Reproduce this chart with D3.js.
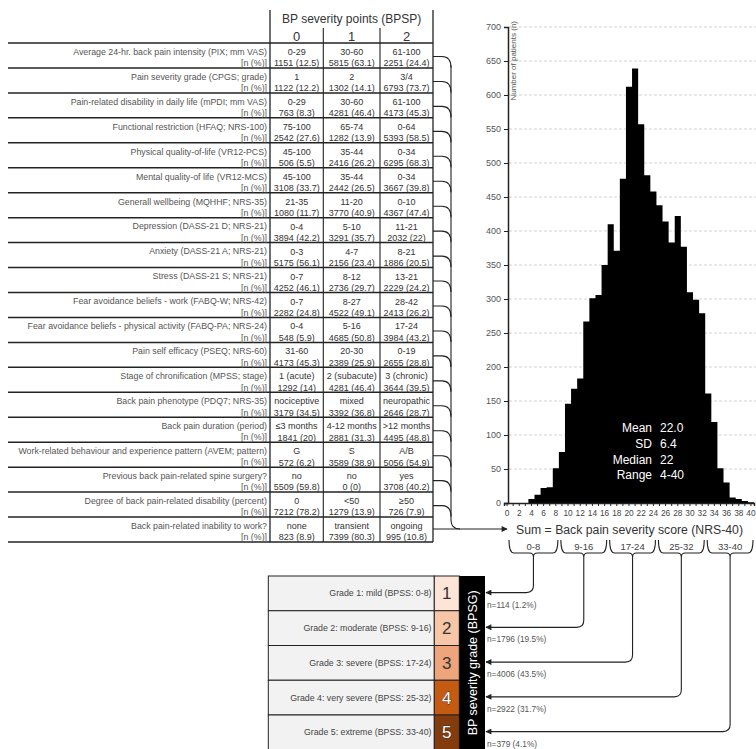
<!DOCTYPE html>
<html>
<head>
<meta charset="utf-8">
<script src="https://cdn.jsdelivr.net/npm/d3@7"></script>
<style>
  body { margin: 0; background: #fff; }
  svg { display: block; font-family: "Liberation Sans", Arial, sans-serif; }
</style>
</head>
<body>
<svg id="chart" width="756" height="749"></svg>
<script>
// ---- Items contributing back pain severity points ----
const measures = [
  "Average 24-hr. back pain intensity (PIX; mm VAS)",
  "Pain severity grade (CPGS; grade)",
  "Pain-related disability in daily life (mPDI; mm VAS)",
  "Functional restriction (HFAQ; NRS-100)",
  "Physical quality-of-life (VR12-PCS)",
  "Mental quality-of life (VR12-MCS)",
  "Generall wellbeing (MQHHF; NRS-35)",
  "Depression (DASS-21 D; NRS-21)",
  "Anxiety (DASS-21 A; NRS-21)",
  "Stress (DASS-21 S; NRS-21)",
  "Fear avoidance beliefs - work (FABQ-W; NRS-42)",
  "Fear avoidance beliefs - physical activity (FABQ-PA; NRS-24)",
  "Pain self efficacy (PSEQ; NRS-60)",
  "Stage of chronification (MPSS; stage)",
  "Back pain phenotype (PDQ7; NRS-35)",
  "Back pain duration (period)",
  "Work-related behaviour and experience pattern (AVEM; pattern)",
  "Previous back pain-related spine surgery?",
  "Degree of back pain-related disability (percent)",
  "Back pain-related inability to work?"
];
const points = ["0", "1", "2"];
const cutoffs = [
  ["0-29", "30-60", "61-100"],
  ["1", "2", "3/4"],
  ["0-29", "30-60", "61-100"],
  ["75-100", "65-74", "0-64"],
  ["45-100", "35-44", "0-34"],
  ["45-100", "35-44", "0-34"],
  ["21-35", "11-20", "0-10"],
  ["0-4", "5-10", "11-21"],
  ["0-3", "4-7", "8-21"],
  ["0-7", "8-12", "13-21"],
  ["0-7", "8-27", "28-42"],
  ["0-4", "5-16", "17-24"],
  ["31-60", "20-30", "0-19"],
  ["1 (acute)", "2 (subacute)", "3 (chronic)"],
  ["nociceptive", "mixed", "neuropathic"],
  ["\u22643 months", "4-12 months", ">12 months"],
  ["G", "S", "A/B"],
  ["no", "no", "yes"],
  ["0", "<50", "\u226550"],
  ["none", "transient", "ongoing"]
];
const countN = [
  [1151, 5815, 2251], [1122, 1302, 6793], [763, 4281, 4173], [2542, 1282, 5393],
  [506, 2416, 6295], [3108, 2442, 3667], [1080, 3770, 4367], [3894, 3291, 2032],
  [5175, 2156, 1886], [4252, 2736, 2229], [2282, 4522, 2413], [548, 4685, 3984],
  [4173, 2389, 2655], [1292, 4281, 3644], [3179, 3392, 2646], [1841, 2881, 4495],
  [572, 3589, 5056], [5509, 0, 3708], [7212, 1279, 726], [823, 7399, 995]
];
const countPct = [
  [12.5, 63.1, 24.4], [12.2, 14.1, 73.7], [8.3, 46.4, 45.3], [27.6, 13.9, 58.5],
  [5.5, 26.2, 68.3], [33.7, 26.5, 39.8], [11.7, 40.9, 47.4], [42.2, 35.7, 22],
  [56.1, 23.4, 20.5], [46.1, 29.7, 24.2], [24.8, 49.1, 26.2], [5.9, 50.8, 43.2],
  [45.3, 25.9, 28.8], [14, 46.4, 39.5], [34.5, 36.8, 28.7], [20, 31.3, 48.8],
  [6.2, 38.9, 54.9], [59.8, 0, 40.2], [78.2, 13.9, 7.9], [8.9, 80.3, 10.8]
];

// ---- Distribution of the summed score ----
const scores = [0,1,2,3,4,5,6,7,8,9,10,11,12,13,14,15,16,17,18,19,20,
                21,22,23,24,25,26,27,28,29,30,31,32,33,34,35,36,37,38,39,40];
const patients = [0,0,0,0,6,12,22,23,51,75,146,168,183,267,301,306,350,410,371,477,612,
                  639,557,482,458,438,414,383,422,377,310,299,279,161,119,51,30,8,6,3,1];
const yTicks = [0,50,100,150,200,250,300,350,400,450,500,550,600,650,700];
const xTickLabels = [0,2,4,6,8,10,12,14,16,18,20,22,24,26,28,30,32,34,36,38,40];
const statNames = ["Mean", "SD", "Median", "Range"];
const statValues = ["22.0", "6.4", "22", "4-40"];

// ---- Severity grades ----
const gradeNames = [
  "Grade 1: mild (BPSS: 0-8)",
  "Grade 2: moderate (BPSS: 9-16)",
  "Grade 3: severe (BPSS: 17-24)",
  "Grade 4: very severe (BPSS: 25-32)",
  "Grade 5: extreme (BPSS: 33-40)"
];
const gradeLo = [0, 9, 17, 25, 33];
const gradeHi = [8, 16, 24, 32, 40];
const gradeN = [114, 1796, 4006, 2922, 379];
const gradePct = [1.2, 19.5, 43.5, 31.7, 4.1];

const svg = d3.select("#chart");
const ink = "#222";

svg.append("defs").append("marker")
  .attr("id", "arrow").attr("viewBox", "0 0 10 10")
  .attr("refX", 9).attr("refY", 5)
  .attr("markerWidth", 7).attr("markerHeight", 6)
  .attr("markerUnits", "userSpaceOnUse")
  .attr("orient", "auto")
  .append("path").attr("d", "M0,0 L10,5 L0,10 Z").attr("fill", ink);

// ================= Table =================
const tbl = svg.append("g");
const tableTop = 43, rowH = 24.95, tableLeft = 8;
const colEdges = [270, 323.3, 380, 433];
const colMid = i => (colEdges[i] + colEdges[i + 1]) / 2;
const rowTop = i => tableTop + i * rowH;
const tableBottom = rowTop(measures.length);

tbl.append("text").attr("x", colMid(1)).attr("y", 23)
  .attr("text-anchor", "middle").attr("font-size", 12).attr("fill", "#333")
  .text("BP severity points (BPSP)");
points.forEach((p, i) => {
  tbl.append("text").attr("x", colMid(i)).attr("y", 40.5)
    .attr("text-anchor", "middle").attr("font-size", 13).attr("fill", "#333").text(p);
});

// grid lines of the table
[colEdges[0], colEdges[3]].forEach(x => tbl.append("line")
  .attr("x1", x).attr("x2", x).attr("y1", 10).attr("y2", tableBottom)
  .attr("stroke", ink).attr("stroke-width", 1.3));
[colEdges[1], colEdges[2]].forEach(x => tbl.append("line")
  .attr("x1", x).attr("x2", x).attr("y1", 28).attr("y2", tableBottom)
  .attr("stroke", ink).attr("stroke-width", 1.1));
d3.range(measures.length + 1).forEach(i => tbl.append("line")
  .attr("x1", tableLeft).attr("x2", colEdges[3]).attr("y1", rowTop(i)).attr("y2", rowTop(i))
  .attr("stroke", ink).attr("stroke-width", 1.5));

measures.forEach((m, i) => {
  const t = rowTop(i);
  tbl.append("text").attr("x", 267).attr("y", t + 11.8)
    .attr("text-anchor", "end").attr("font-size", 8.8).attr("fill", "#555").text(m);
  tbl.append("text").attr("x", 267).attr("y", t + 23.2)
    .attr("text-anchor", "end").attr("font-size", 8.8).attr("fill", "#555").text("[n (%)]");
  cutoffs[i].forEach((c, j) => {
    tbl.append("text").attr("x", colMid(j)).attr("y", t + 12)
      .attr("text-anchor", "middle").attr("font-size", 9).attr("fill", "#333").text(c);
    tbl.append("text").attr("x", colMid(j)).attr("y", t + 23.3)
      .attr("text-anchor", "middle").attr("font-size", 9).attr("fill", "#333")
      .text(`${countN[i][j]} (${countPct[i][j]})`);
  });
});

// ================= Histogram =================
const x = d3.scaleBand().domain(scores).range([504, 754]).padding(0);
const y = d3.scaleLinear().domain([0, 700]).range([503, 27]);
const bw = x.bandwidth();
const hist = svg.append("g");

hist.selectAll("line.grid").data(yTicks.filter(v => v > 0)).join("line")
  .attr("class", "grid")
  .attr("x1", 509).attr("x2", 756).attr("y1", d => y(d)).attr("y2", d => y(d))
  .attr("stroke", "#c8c8c8").attr("stroke-width", 0.8).attr("stroke-dasharray", "3,2");

// contiguous bars drawn as one stepped outline so adjacent bins don't show seams
const steps = scores.flatMap((s, i) => [[x(s), patients[i]], [x(s) + bw, patients[i]]]);
hist.append("path")
  .datum(steps)
  .attr("fill", "#000")
  .attr("d", d3.area().x(d => d[0]).y0(y(0)).y1(d => y(d[1])));

const yAxis = hist.append("g").attr("transform", "translate(508,0)")
  .call(d3.axisLeft(y).tickValues(yTicks).tickSize(4).tickPadding(3));
yAxis.select(".domain").attr("stroke", ink).attr("stroke-width", 1.5);
yAxis.selectAll(".tick line").attr("stroke", ink);
yAxis.selectAll(".tick text").attr("font-size", 9).attr("fill", "#555")
  .attr("font-family", "Liberation Sans, Arial, sans-serif");

const xAxis = hist.append("g").attr("transform", "translate(0,503)")
  .call(d3.axisBottom(x).tickValues(scores).tickSize(3).tickFormat(d => xTickLabels.includes(d) ? d : ""));
xAxis.select(".domain").attr("stroke", ink).attr("stroke-width", 1.5);
xAxis.selectAll(".tick line").attr("stroke", ink);
xAxis.selectAll(".tick text").attr("font-size", 8.3).attr("fill", "#444").attr("dy", "0.9em")
  .attr("font-family", "Liberation Sans, Arial, sans-serif");

hist.append("text").attr("transform", "translate(516,21) rotate(-90)")
  .attr("text-anchor", "end").attr("font-size", 8).attr("fill", "#555")
  .text("Number of patients (n)");

statNames.forEach((s, i) => {
  hist.append("text").attr("x", 652).attr("y", 432 + i * 15.8)
    .attr("text-anchor", "end").attr("font-size", 12).attr("fill", "#fff").text(s);
  hist.append("text").attr("x", 660).attr("y", 432 + i * 15.8)
    .attr("text-anchor", "start").attr("font-size", 12).attr("fill", "#fff").text(statValues[i]);
});

// ================= Row connectors into the sum =================
const conn = svg.append("g").attr("fill", "none").attr("stroke", ink).attr("stroke-width", 1.1);
const vx = 451, r = 9;
const sumY = rowTop(measures.length - 1) + 12;
measures.slice(0, -1).forEach((m, i) => {
  const yy = rowTop(i) + 13.5;
  conn.append("path").attr("d", `M${colEdges[3]},${yy} H${vx - r} Q${vx},${yy} ${vx},${yy + r + 2}`);
});
conn.append("path")
  .attr("d", `M${vx},${rowTop(0) + 13.5 + r} V${sumY - r} Q${vx},${sumY} ${vx + r},${sumY}`);
conn.append("path").attr("d", `M${colEdges[3]},${sumY} H507`).attr("marker-end", "url(#arrow)");

svg.append("text").attr("x", 516).attr("y", sumY + 4.5)
  .attr("font-size", 12.5).attr("fill", "#333")
  .attr("textLength", 227).attr("lengthAdjust", "spacingAndGlyphs")
  .text("Sum = Back pain severity score (NRS-40)");

// ================= Grade boxes =================
const gb = svg.append("g");
const boxTop = 576, boxH = 34.75;
const gx0 = 268.3, gx1 = 434.3, gx2 = 459.3, gx3 = 485;
const gradeFill = ["#fce4d6", "#f6c6a6", "#eea57b", "#c55a11", "#843c0c"];

gradeNames.forEach((g, i) => {
  const t = boxTop + i * boxH;
  gb.append("rect").attr("x", gx0).attr("y", t).attr("width", gx1 - gx0).attr("height", boxH)
    .attr("fill", "#f2f2f2").attr("stroke", ink).attr("stroke-width", 1);
  gb.append("rect").attr("x", gx1).attr("y", t).attr("width", gx2 - gx1).attr("height", boxH)
    .attr("fill", gradeFill[i]).attr("stroke", ink).attr("stroke-width", 1);
  gb.append("text").attr("x", 431.5).attr("y", t + boxH / 2 + 3)
    .attr("text-anchor", "end").attr("font-size", 8.8).attr("fill", "#444").text(g);
  gb.append("text").attr("x", (gx1 + gx2) / 2).attr("y", t + boxH / 2 + 6)
    .attr("text-anchor", "middle").attr("font-size", 17)
    .attr("fill", i >= 3 ? "#fff" : "#333")
    .attr("stroke", i >= 3 ? "#333" : "none").attr("stroke-width", 0.8)
    .attr("paint-order", "stroke")
    .text(i + 1);
});
gb.append("rect").attr("x", gx2).attr("y", boxTop).attr("width", gx3 - gx2)
  .attr("height", boxH * 5).attr("fill", "#000");
gb.append("text")
  .attr("transform", `translate(${(gx2 + gx3) / 2 + 4.5},${boxTop + boxH * 2.5}) rotate(-90)`)
  .attr("text-anchor", "middle").attr("font-size", 12.5).attr("fill", "#fff")
  .text("BP severity grade (BPSG)");

// ================= Braces and grade arrows =================
const br = svg.append("g");
gradeLo.forEach((lo, i) => {
  const a = x(lo) + (i === 0 ? 5 : 2);
  const b = x(gradeHi[i]) + bw - 1;
  const c = (a + b) / 2;
  const top = 540, bot = 553;
  br.append("path").attr("fill", "none").attr("stroke", ink).attr("stroke-width", 1.1)
    .attr("d", `M${a},${top} Q${a},${bot} ${a + 5},${bot} H${c - 4} Q${c},${bot} ${c},${bot + 4}` +
               ` Q${c},${bot} ${c + 4},${bot} H${b - 5} Q${b},${bot} ${b},${top}`);
  br.append("text").attr("x", c).attr("y", 549.5)
    .attr("text-anchor", "middle").attr("font-size", 9.5).attr("fill", "#444")
    .text(`${lo}-${gradeHi[i]}`);
  const ay = boxTop + i * boxH + boxH / 2 - 0.8;
  br.append("path").attr("fill", "none").attr("stroke", ink).attr("stroke-width", 1.1)
    .attr("d", `M${c},${bot + 4} V${ay - 7} Q${c},${ay} ${c - 7},${ay} H${gx3 + 1}`)
    .attr("marker-end", "url(#arrow)");
  br.append("text").attr("x", gx3 + 2).attr("y", ay + 15)
    .attr("font-size", 8.3).attr("fill", "#555")
    .text(`n=${gradeN[i]} (${gradePct[i]}%)`);
});
</script>
</body>
</html>
